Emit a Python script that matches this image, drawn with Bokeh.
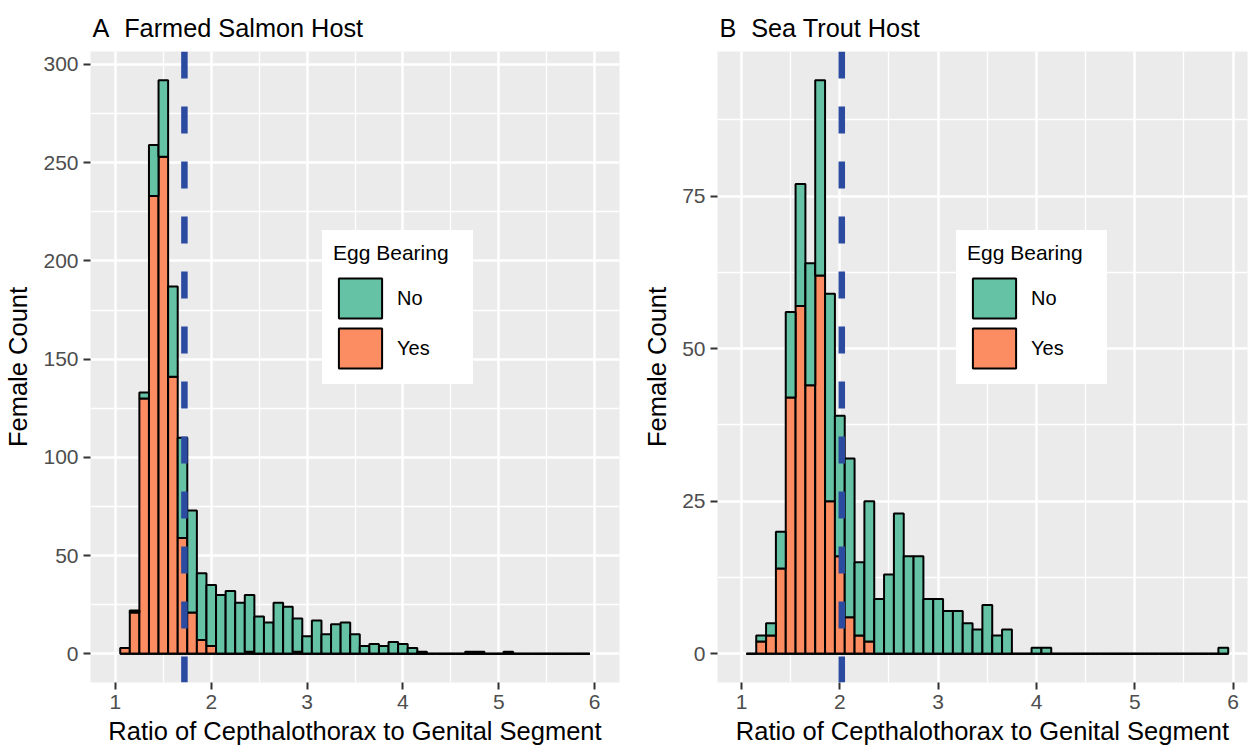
from bokeh.plotting import figure
from bokeh.models import FixedTicker, Span, Legend, LegendItem, ColumnDataSource
from bokeh.layouts import row
from bokeh.embed import file_html
from bokeh.resources import INLINE

# ---- data ----
bin_centers = [1.1, 1.2, 1.3, 1.4, 1.5, 1.6, 1.7, 1.8, 1.9, 2.0,
               2.1, 2.2, 2.3, 2.4, 2.5, 2.6, 2.7, 2.8, 2.9, 3.0,
               3.1, 3.2, 3.3, 3.4, 3.5, 3.6, 3.7, 3.8, 3.9, 4.0,
               4.1, 4.2, 4.3, 4.4, 4.5, 4.6, 4.7, 4.8, 4.9, 5.0,
               5.1, 5.2, 5.3, 5.4, 5.5, 5.6, 5.7, 5.8, 5.9]
bin_width = 0.1

salmon_total = [3, 22, 133, 259, 292, 187, 110, 73, 41, 35,
                30, 32, 26, 30, 19, 16, 26, 24, 18, 9,
                17, 10, 15, 16, 10, 4, 5, 4, 6, 5,
                3, 1, 0, 0, 0, 0, 1, 1, 0, 0,
                1, 0, 0, 0, 0, 0, 0, 0, 0]
salmon_yes = [3, 21, 130, 233, 253, 141, 59, 21, 7, 4,
              0, 0, 0, 1, 0, 0, 0, 0, 1, 0,
              0, 0, 0, 0, 0, 0, 0, 0, 0, 0,
              0, 0, 0, 0, 0, 0, 0, 0, 0, 0,
              0, 0, 0, 0, 0, 0, 0, 0, 0]

trout_total = [0, 3, 5, 20, 56, 77, 64, 94, 59, 39,
               32, 15, 25, 9, 13, 23, 16, 16, 9, 9,
               7, 7, 5, 4, 8, 3, 4, 0, 0, 1,
               1, 0, 0, 0, 0, 0, 0, 0, 0, 0,
               0, 0, 0, 0, 0, 0, 0, 0, 1]
trout_yes = [0, 2, 3, 14, 42, 57, 44, 62, 25, 16,
             6, 3, 2, 0, 0, 0, 0, 0, 0, 0,
             0, 0, 0, 0, 0, 0, 0, 0, 0, 0,
             0, 0, 0, 0, 0, 0, 0, 0, 0, 0,
             0, 0, 0, 0, 0, 0, 0, 0, 0]

salmon_cut = 1.72
trout_cut = 2.02

x_ticks = [1, 2, 3, 4, 5, 6]
x_minor = [1.5, 2.5, 3.5, 4.5, 5.5]
salmon_yticks = [0, 50, 100, 150, 200, 250, 300]
salmon_yminor = [25, 75, 125, 175, 225, 275]
trout_yticks = [0, 25, 50, 75]
trout_yminor = [12.5, 37.5, 62.5, 87.5]

labels = ["No", "Yes"]
colors = {"No": "#66C2A5", "Yes": "#FC8D62"}

FONT = "Liberation Sans"


def panel(title, total, yes, cut, xr, yr, yticks, yminor, leg_x, bl, fw, br):
    left = [c - bin_width / 2 for c in bin_centers]
    right = [c + bin_width / 2 for c in bin_centers]
    no = [t - y for t, y in zip(total, yes)]
    src = ColumnDataSource(dict(left=left, right=right, yes=yes, total=total,
                                zero=[0] * len(total), no=no))
    p = figure(width=bl + fw + br, height=749, x_range=xr, y_range=yr,
               output_backend="svg", toolbar_location=None,
               min_border_left=bl, min_border_right=br,
               min_border_top=51, min_border_bottom=67)
    p.background_fill_color = "#EBEBEB"
    p.border_fill_color = "white"
    p.outline_line_color = None

    p.title.text = title
    p.title.text_font = FONT
    p.title.text_font_size = "25.3px"
    p.title.text_font_style = "normal"
    p.title.text_color = "black"
    p.title.align = "left"
    p.title.offset = 2
    p.title.standoff = 20

    p.xaxis.ticker = FixedTicker(ticks=x_ticks, minor_ticks=x_minor)
    p.yaxis.ticker = FixedTicker(ticks=yticks, minor_ticks=yminor)
    for g in (p.xgrid, p.ygrid):
        g.grid_line_color = "white"
        g.grid_line_width = 2.5
        g.minor_grid_line_color = "white"
        g.minor_grid_line_width = 1.3
    for ax in (p.xaxis, p.yaxis):
        ax.axis_line_color = None
        ax.minor_tick_line_color = None
        ax.major_tick_line_color = "#333333"
        ax.major_tick_line_width = 2
        ax.major_tick_out = 7
        ax.major_tick_in = 0
        ax.major_label_text_font = FONT
        ax.major_label_text_font_size = "21px"
        ax.major_label_text_color = "#4D4D4D"
        ax.axis_label_text_font = FONT
        ax.axis_label_text_font_size = "25.5px"
        ax.axis_label_text_font_style = "normal"
        ax.axis_label_text_color = "black"
        ax.axis_label_text_line_height = 1.0
    p.xaxis.axis_label = "Ratio of Cepthalothorax to Genital Segment"
    p.yaxis.axis_label = "Female Count"
    p.xaxis.major_label_standoff = 5
    p.xaxis.axis_label_standoff = 5
    p.yaxis.major_label_standoff = 5
    p.yaxis.axis_label_standoff = 8

    r_yes = p.quad(left="left", right="right", bottom="zero", top="yes", source=src,
                   fill_color=colors["Yes"], line_color="black", line_width=2)
    r_no = p.quad(left="left", right="right", bottom="yes", top="total", source=src,
                  fill_color=colors["No"], line_color="black", line_width=2)
    p.segment(x0="left", y0="zero", x1="right", y1="zero", source=src,
              line_color="black", line_width=2)

    p.add_layout(Span(location=cut, dimension="height", line_color="#2B4BA0",
                      line_width=6.5, line_dash="27 28"))

    leg = Legend(items=[LegendItem(label=labels[0], renderers=[r_no]),
                        LegendItem(label=labels[1], renderers=[r_yes])],
                 location=(leg_x, 298))
    leg.title = "Egg Bearing"
    leg.title_text_font = FONT
    leg.title_text_font_size = "21px"
    leg.title_text_font_style = "normal"
    leg.title_text_color = "black"
    leg.title_standoff = 8
    leg.label_text_font = FONT
    leg.label_text_font_size = "20px"
    leg.label_text_color = "black"
    leg.glyph_width = 54
    leg.glyph_height = 50
    leg.spacing = 0
    leg.padding = 10
    leg.margin = 0
    leg.label_standoff = 10
    leg.label_width = 65
    leg.border_line_color = "white"
    leg.border_line_width = 1
    leg.background_fill_color = "white"
    leg.background_fill_alpha = 1
    p.add_layout(leg, "center")
    return p


pa = panel("A\u2002\u200aFarmed Salmon Host", salmon_total, salmon_yes, salmon_cut,
           (0.74, 6.26), (-14.6, 306.6), salmon_yticks, salmon_yminor, 232, 90, 529, 8)
pb = panel("B\u2002\u200aSea Trout Host", trout_total, trout_yes, trout_cut,
           (0.756, 6.146), (-4.7, 98.7), trout_yticks, trout_yminor, 239, 90, 530, 7)

layout = row(pa, pb)
open("out.html", "w").write(file_html(layout, INLINE))
